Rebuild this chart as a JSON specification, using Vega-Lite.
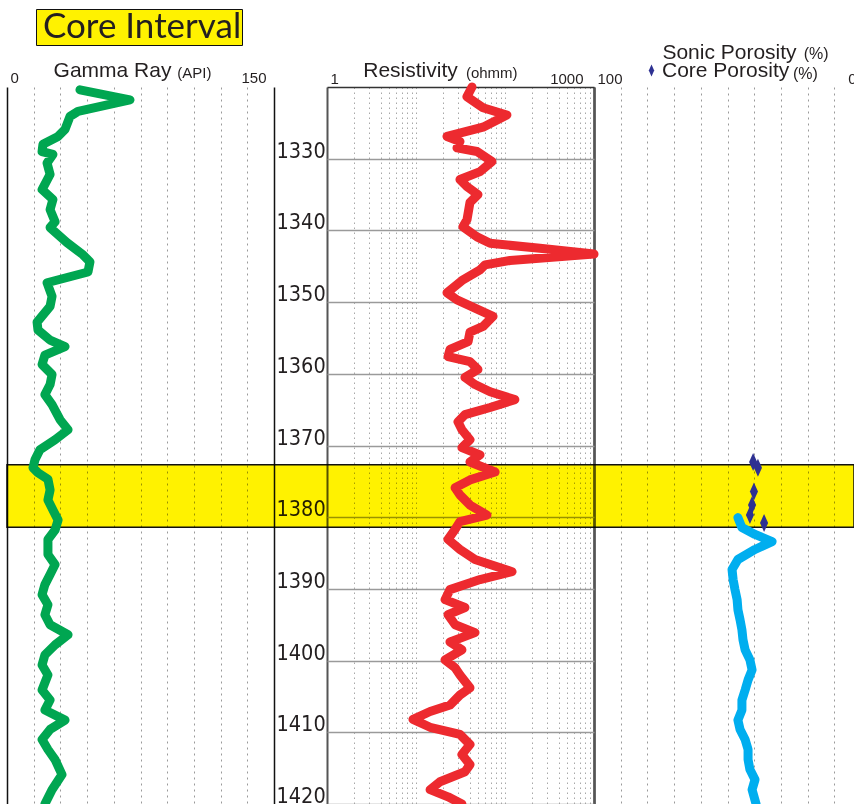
{
  "$schema": "https://vega.github.io/schema/vega-lite/v6.json",
  "width": 847,
  "height": 717,
  "autosize": {"type": "none"},
  "padding": {"left": 7, "top": 87, "right": 0, "bottom": 0},
  "background": "white",
  "config": {"view": {"stroke": null}},
  "datasets": {
    "band": [{"depth": 1372.7, "depth_end": 1381.4, "zone": "Core Interval"}],
    "gamma": [
      {"depth": 1320.4, "gr": 41.0}, {"depth": 1321.8, "gr": 69.1}, {"depth": 1323.4, "gr": 39.9}, {"depth": 1324.1, "gr": 35.4},
      {"depth": 1325.9, "gr": 32.6}, {"depth": 1326.9, "gr": 28.7}, {"depth": 1328.0, "gr": 20.2}, {"depth": 1329.0, "gr": 19.7},
      {"depth": 1329.4, "gr": 25.8}, {"depth": 1330.6, "gr": 22.5}, {"depth": 1332.2, "gr": 24.2}, {"depth": 1334.3, "gr": 19.7},
      {"depth": 1335.7, "gr": 25.8}, {"depth": 1337.1, "gr": 24.2}, {"depth": 1338.8, "gr": 27.0}, {"depth": 1339.6, "gr": 24.2},
      {"depth": 1341.7, "gr": 33.7}, {"depth": 1343.4, "gr": 42.7}, {"depth": 1344.4, "gr": 46.6}, {"depth": 1345.8, "gr": 45.5},
      {"depth": 1347.3, "gr": 22.5}, {"depth": 1349.2, "gr": 25.3}, {"depth": 1350.6, "gr": 24.2}, {"depth": 1352.8, "gr": 16.9},
      {"depth": 1353.9, "gr": 17.4}, {"depth": 1355.3, "gr": 24.2}, {"depth": 1356.2, "gr": 32.6}, {"depth": 1357.4, "gr": 21.3},
      {"depth": 1358.7, "gr": 19.7}, {"depth": 1360.1, "gr": 25.3}, {"depth": 1361.5, "gr": 24.2}, {"depth": 1362.9, "gr": 21.3},
      {"depth": 1364.3, "gr": 25.3}, {"depth": 1366.4, "gr": 29.8}, {"depth": 1367.8, "gr": 34.3}, {"depth": 1369.2, "gr": 27.0},
      {"depth": 1370.6, "gr": 18.5}, {"depth": 1372.0, "gr": 15.7}, {"depth": 1373.1, "gr": 14.6}, {"depth": 1373.8, "gr": 17.4},
      {"depth": 1374.7, "gr": 23.0}, {"depth": 1376.2, "gr": 24.2}, {"depth": 1377.6, "gr": 23.0}, {"depth": 1379.0, "gr": 25.8},
      {"depth": 1380.4, "gr": 28.7}, {"depth": 1381.8, "gr": 27.0}, {"depth": 1383.1, "gr": 23.0}, {"depth": 1385.2, "gr": 23.0},
      {"depth": 1386.6, "gr": 27.0}, {"depth": 1388.0, "gr": 24.2}, {"depth": 1389.4, "gr": 21.3}, {"depth": 1390.8, "gr": 19.7},
      {"depth": 1392.2, "gr": 23.0}, {"depth": 1393.6, "gr": 21.3}, {"depth": 1395.0, "gr": 24.2}, {"depth": 1396.4, "gr": 34.3},
      {"depth": 1397.8, "gr": 27.0}, {"depth": 1399.2, "gr": 21.3}, {"depth": 1400.6, "gr": 19.7}, {"depth": 1402.0, "gr": 23.0},
      {"depth": 1404.1, "gr": 19.7}, {"depth": 1405.5, "gr": 24.2}, {"depth": 1406.9, "gr": 21.3}, {"depth": 1408.3, "gr": 32.6},
      {"depth": 1409.6, "gr": 24.2}, {"depth": 1411.0, "gr": 19.7}, {"depth": 1412.4, "gr": 23.0}, {"depth": 1413.8, "gr": 27.0},
      {"depth": 1415.9, "gr": 30.9}, {"depth": 1418.0, "gr": 25.3}, {"depth": 1420.0, "gr": 21.3}
    ],
    "res": [
      {"depth": 1320.0, "rt": 42.6}, {"depth": 1321.35, "rt": 37.4}, {"depth": 1322.9, "rt": 56.6}, {"depth": 1323.9, "rt": 105},
      {"depth": 1325.6, "rt": 56.6}, {"depth": 1326.9, "rt": 22.3}, {"depth": 1327.6, "rt": 31.2}, {"depth": 1328.5, "rt": 28.9},
      {"depth": 1329.0, "rt": 48.5}, {"depth": 1330.4, "rt": 71.4}, {"depth": 1331.8, "rt": 52.4}, {"depth": 1332.9, "rt": 31.2},
      {"depth": 1333.9, "rt": 37.4}, {"depth": 1335.0, "rt": 49.7}, {"depth": 1336.1, "rt": 40.4}, {"depth": 1338.5, "rt": 37.4},
      {"depth": 1339.5, "rt": 33.7}, {"depth": 1340.9, "rt": 48.5}, {"depth": 1341.8, "rt": 68}, {"depth": 1342.5, "rt": 247},
      {"depth": 1343.3, "rt": 1000}, {"depth": 1344.2, "rt": 114}, {"depth": 1344.8, "rt": 59.6}, {"depth": 1345.5, "rt": 52.4},
      {"depth": 1346.9, "rt": 33.7}, {"depth": 1348.7, "rt": 22.3}, {"depth": 1349.7, "rt": 28.9}, {"depth": 1352.0, "rt": 73.3},
      {"depth": 1353.4, "rt": 56.6}, {"depth": 1354.2, "rt": 40.4}, {"depth": 1355.5, "rt": 38.5}, {"depth": 1356.6, "rt": 24.1},
      {"depth": 1357.6, "rt": 22.9}, {"depth": 1358.3, "rt": 40.4}, {"depth": 1359.4, "rt": 49.7}, {"depth": 1360.5, "rt": 35.5},
      {"depth": 1361.5, "rt": 46.0}, {"depth": 1362.5, "rt": 68}, {"depth": 1363.6, "rt": 129}, {"depth": 1364.7, "rt": 68},
      {"depth": 1365.7, "rt": 35.5}, {"depth": 1366.7, "rt": 29.6}, {"depth": 1367.8, "rt": 32.8}, {"depth": 1369.2, "rt": 40.4},
      {"depth": 1370.3, "rt": 32.8}, {"depth": 1371.3, "rt": 52.4}, {"depth": 1372.3, "rt": 40.4}, {"depth": 1373.7, "rt": 77.4},
      {"depth": 1374.8, "rt": 40.4}, {"depth": 1375.9, "rt": 27.5}, {"depth": 1376.9, "rt": 31.2}, {"depth": 1378.3, "rt": 40.4},
      {"depth": 1379.7, "rt": 62.7}, {"depth": 1380.6, "rt": 31.2}, {"depth": 1381.7, "rt": 27.5}, {"depth": 1383.1, "rt": 22.9},
      {"depth": 1384.5, "rt": 31.2}, {"depth": 1385.9, "rt": 46.0}, {"depth": 1387.6, "rt": 120}, {"depth": 1388.7, "rt": 52.4},
      {"depth": 1390.1, "rt": 24.1}, {"depth": 1391.5, "rt": 21.2}, {"depth": 1392.6, "rt": 35.5}, {"depth": 1393.6, "rt": 22.9},
      {"depth": 1395.0, "rt": 27.5}, {"depth": 1396.1, "rt": 46.0}, {"depth": 1397.4, "rt": 24.1}, {"depth": 1398.5, "rt": 32.8},
      {"depth": 1399.9, "rt": 21.2}, {"depth": 1401.0, "rt": 27.5}, {"depth": 1402.0, "rt": 31.2}, {"depth": 1403.8, "rt": 40.4},
      {"depth": 1404.8, "rt": 31.2}, {"depth": 1406.2, "rt": 24.1}, {"depth": 1407.1, "rt": 14.4}, {"depth": 1408.2, "rt": 9.25},
      {"depth": 1409.3, "rt": 14.4}, {"depth": 1410.3, "rt": 31.2}, {"depth": 1411.7, "rt": 40.4}, {"depth": 1413.1, "rt": 32.8},
      {"depth": 1414.5, "rt": 40.4}, {"depth": 1415.5, "rt": 35.5}, {"depth": 1416.9, "rt": 18.6}, {"depth": 1418.0, "rt": 14.4},
      {"depth": 1419.0, "rt": 22.9}, {"depth": 1420.0, "rt": 32.8}
    ],
    "sonic": [
      {"depth": 1380.05, "phi": 46.1}, {"depth": 1381.45, "phi": 44.6}, {"depth": 1382.4, "phi": 39.7}, {"depth": 1383.4, "phi": 33.3},
      {"depth": 1384.5, "phi": 39.7}, {"depth": 1385.9, "phi": 46.1}, {"depth": 1387.3, "phi": 48.3}, {"depth": 1388.7, "phi": 47.9},
      {"depth": 1390.1, "phi": 47.2}, {"depth": 1391.5, "phi": 46.4}, {"depth": 1392.9, "phi": 46.1}, {"depth": 1394.3, "phi": 45.3},
      {"depth": 1395.7, "phi": 44.6}, {"depth": 1397.1, "phi": 44.2}, {"depth": 1398.5, "phi": 43.4}, {"depth": 1399.9, "phi": 41.6},
      {"depth": 1401.3, "phi": 40.8}, {"depth": 1402.7, "phi": 42.3}, {"depth": 1404.1, "phi": 43.4}, {"depth": 1405.5, "phi": 44.6},
      {"depth": 1406.9, "phi": 44.6}, {"depth": 1408.3, "phi": 46.1}, {"depth": 1409.6, "phi": 45.3}, {"depth": 1411.0, "phi": 43.4},
      {"depth": 1412.4, "phi": 42.3}, {"depth": 1413.8, "phi": 42.3}, {"depth": 1415.2, "phi": 41.6}, {"depth": 1416.6, "phi": 39.7},
      {"depth": 1418.0, "phi": 40.8}, {"depth": 1420.0, "phi": 39.3}
    ],
    "core": [
      {"depth": 1372.3, "phi": 40.4}, {"depth": 1373.1, "phi": 38.6}, {"depth": 1376.4, "phi": 40.1},
      {"depth": 1378.3, "phi": 40.8}, {"depth": 1379.7, "phi": 41.6}, {"depth": 1380.8, "phi": 36.3}
    ]
  },
  "encoding": {
    "y": {
      "field": "depth", "type": "quantitative",
      "scale": {"domain": [1320, 1420], "reverse": true, "nice": false, "zero": false},
      "axis": {
        "orient": "left", "title": null, "domain": false, "ticks": false, "tickSize": 0,
        "values": [1320, 1330, 1340, 1350, 1360, 1370, 1380, 1390, 1400, 1410, 1420],
        "grid": true,
        "gridColor": {"condition": {"test": "datum.value == 1320", "value": "#333333"}, "value": "#9a9a9a"},
        "gridWidth": 1.3,
        "labelExpr": "datum.value == 1320 ? '' : format(datum.value, 'd')",
        "labelFont": "DejaVu Sans Condensed", "labelFontSize": 21.5, "labelColor": "#231f20",
        "labelAlign": "left", "labelBaseline": "alphabetic", "labelPadding": -269, "labelOffset": -1.5,
        "labelOverlap": false, "labelFlush": false, "labelBound": false, "labelLimit": 0
      }
    }
  },
  "resolve": {"scale": {"x": "independent"}, "axis": {"x": "independent"}},
  "layer": [
    {
      "data": {"name": "band"},
      "mark": {"type": "rect", "stroke": "#111111", "strokeWidth": 1.5, "blend": "multiply", "opacity": 1},
      "encoding": {
        "y2": {"field": "depth_end"},
        "fill": {
          "field": "zone", "type": "nominal",
          "scale": {"range": ["#fff200"]},
          "legend": {
            "orient": "none", "legendX": 29, "legendY": -78, "title": null,
            "fillColor": "#fff200", "strokeColor": "#111111", "padding": 0, "cornerRadius": 0,
            "symbolOpacity": 0, "symbolSize": 1, "symbolStrokeWidth": 0, "labelOffset": -28, "labelLimit": 0,
            "labelFont": "Lato", "labelFontSize": 35, "labelColor": "#231f20"
          }
        }
      }
    },
    {
      "data": {"name": "res"},
      "mark": {"type": "line", "color": "#ed2a2f", "strokeWidth": 9, "strokeCap": "round", "strokeJoin": "round"},
      "encoding": {
        "order": {"field": "depth", "type": "quantitative"},
        "x": {
          "field": "rt", "type": "quantitative",
          "scale": {"type": "log", "domain": [1, 1000], "range": [320, 587], "nice": false},
          "axis": {
            "orient": "top", "domain": false, "ticks": false, "tickSize": 0, "grid": true,
            "values": [1, 2, 3, 4, 5, 6, 7, 8, 9, 10, 20, 30, 40, 50, 60, 70, 80, 90, 100, 200, 300, 400, 500, 600, 700, 800, 900, 1000],
            "gridColor": {"condition": {"test": "datum.value == 1 || datum.value == 1000", "value": "#555555"}, "value": "#a8a8a8"},
            "gridDash": {"condition": {"test": "datum.value == 1 || datum.value == 1000", "value": []}, "value": [1.5, 3.5]},
            "gridWidth": {"condition": {"test": "datum.value == 1 || datum.value == 1000", "value": 2}, "value": 1},
            "labelExpr": "datum.value == 1 ? '1' : datum.value == 1000 ? '1000' : datum.value == 70 ? '(ohmm)' : ''",
            "labelFont": "Liberation Sans", "labelFontSize": 15, "labelColor": "#231f20", "labelBaseline": "alphabetic",
            "labelAlign": {"condition": [{"test": "datum.value == 1", "value": "left"}, {"test": "datum.value == 1000", "value": "right"}], "value": "center"},
            "labelOffset": {"condition": [{"test": "datum.value == 1", "value": 3}, {"test": "datum.value == 1000", "value": -11}], "value": 0},
            "labelPadding": {"condition": {"test": "datum.value == 70", "value": 10}, "value": 4},
            "labelOverlap": false, "labelFlush": false, "labelBound": false,
            "title": "Resistivity", "titleX": 403, "titleY": -10.5, "titleAlign": "center", "titleBaseline": "alphabetic",
            "titleFont": "Liberation Sans", "titleFontSize": 21, "titleFontWeight": "normal", "titleColor": "#231f20"
          }
        }
      }
    },
    {
      "data": {"name": "gamma"},
      "mark": {"type": "line", "color": "#00a651", "strokeWidth": 9, "strokeCap": "round", "strokeJoin": "round"},
      "encoding": {
        "order": {"field": "depth", "type": "quantitative"},
        "x": {
          "field": "gr", "type": "quantitative",
          "scale": {"domain": [0, 150], "range": [0, 267], "nice": false, "zero": false},
          "axis": {
            "orient": "top", "domain": false, "ticks": false, "tickSize": 0, "grid": true,
            "values": [0, 15, 30, 45, 60, 75, 90, 105, 120, 135, 150],
            "gridColor": {"condition": {"test": "datum.value == 0 || datum.value == 150", "value": "#111111"}, "value": "#9a9a9a"},
            "gridDash": {"condition": {"test": "datum.value == 0 || datum.value == 150", "value": []}, "value": [2, 4]},
            "gridWidth": {"condition": {"test": "datum.value == 0 || datum.value == 150", "value": 1.5}, "value": 1},
            "labelExpr": "datum.value == 0 ? '0' : datum.value == 150 ? '150' : datum.value == 105 ? '(API)' : ''",
            "labelFont": "Liberation Sans", "labelFontSize": 15, "labelColor": "#231f20", "labelBaseline": "alphabetic",
            "labelAlign": {"condition": [{"test": "datum.value == 0", "value": "left"}, {"test": "datum.value == 150", "value": "right"}], "value": "center"},
            "labelOffset": {"condition": [{"test": "datum.value == 0", "value": 3}, {"test": "datum.value == 150", "value": -8}], "value": 0},
            "labelPadding": {"condition": {"test": "datum.value == 105", "value": 10}, "value": 5},
            "labelOverlap": false, "labelFlush": false, "labelBound": false,
            "title": "Gamma Ray", "titleX": 105, "titleY": -11, "titleAlign": "center", "titleBaseline": "alphabetic",
            "titleFont": "Liberation Sans", "titleFontSize": 21, "titleFontWeight": "normal", "titleColor": "#231f20"
          }
        }
      }
    },
    {
      "data": {"name": "sonic"},
      "mark": {"type": "line", "color": "#00aeef", "strokeWidth": 9, "strokeCap": "round", "strokeJoin": "round"},
      "encoding": {
        "order": {"field": "depth", "type": "quantitative"},
        "x": {
          "field": "phi", "type": "quantitative",
          "scale": {"domain": [100, 0], "range": [587, 854], "nice": false, "zero": false},
          "axis": {
            "orient": "top", "domain": false, "ticks": false, "tickSize": 0, "grid": true,
            "values": [100, 90, 80, 70, 60, 50, 40, 30, 20, 10, 0, 17, 21],
            "gridColor": {"condition": {"test": "datum.value == 100", "value": "#555555"}, "value": "#9a9a9a"},
            "gridDash": {"condition": {"test": "datum.value == 100", "value": []}, "value": [2, 4]},
            "gridWidth": {"condition": {"test": "datum.value == 100", "value": 2.5}, "value": 1},
            "gridOpacity": {"condition": {"test": "datum.value == 17 || datum.value == 21", "value": 0}, "value": 1},
            "labelExpr": "datum.value == 100 ? '100' : datum.value == 0 ? '0' : (datum.value == 17 || datum.value == 21) ? '(%)' : ''",
            "labelFont": "Liberation Sans", "labelColor": "#231f20", "labelBaseline": "alphabetic",
            "labelFontSize": {"condition": {"test": "datum.value == 17 || datum.value == 21", "value": 16}, "value": 15},
            "labelAlign": {"condition": [{"test": "datum.value == 100", "value": "left"}, {"test": "datum.value == 0", "value": "right"}], "value": "center"},
            "labelOffset": {"condition": [{"test": "datum.value == 100", "value": 3}, {"test": "datum.value == 0", "value": -5}], "value": 0},
            "labelPadding": {"condition": [{"test": "datum.value == 17", "value": 29}, {"test": "datum.value == 21", "value": 9}], "value": 4},
            "labelOverlap": false, "labelFlush": false, "labelBound": false,
            "title": "Sonic Porosity", "titleX": 722, "titleY": -29, "titleAlign": "center", "titleBaseline": "alphabetic",
            "titleFont": "Liberation Sans", "titleFontSize": 21, "titleFontWeight": "normal", "titleColor": "#231f20"
          }
        }
      }
    },
    {
      "data": {"name": "core"},
      "mark": {"type": "point", "filled": true, "fill": "#2e3192", "strokeWidth": 0, "size": 324, "opacity": 1},
      "encoding": {
        "x": {
          "field": "phi", "type": "quantitative",
          "scale": {"domain": [100, 0], "range": [587, 854], "nice": false, "zero": false},
          "axis": null
        },
        "shape": {
          "datum": "Core Porosity", "type": "nominal",
          "scale": {"range": ["M0,-1L0.45,0L0,1L-0.45,0Z"]},
          "legend": {
            "orient": "none", "legendX": 634, "legendY": -27, "title": null, "padding": 0,
            "symbolSize": 144, "symbolFillColor": "#2e3192", "symbolStrokeWidth": 0, "symbolOpacity": 1,
            "labelFont": "Liberation Sans", "labelFontSize": 21, "labelColor": "#231f20", "labelOffset": 0
          }
        }
      }
    }
  ]
}
